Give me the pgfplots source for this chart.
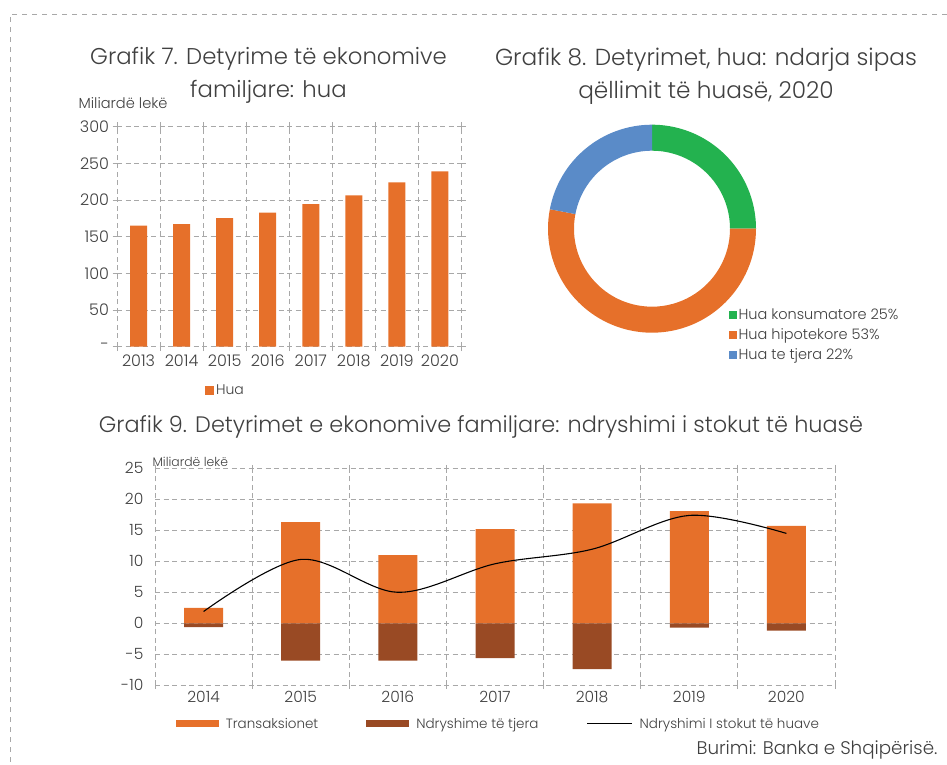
\documentclass[border=0pt]{standalone}
\usepackage{pgfplots}
\pgfplotsset{compat=1.18}
\usepackage{fontspec}
\IfFontExistsTF{Poppins Light}{\setmainfont{Poppins Light}}{\setmainfont{Poppins}}
\definecolor{cOr}{HTML}{E6702A}
\definecolor{cBr}{HTML}{994A24}
\definecolor{cGr}{HTML}{23B24F}
\definecolor{cBl}{HTML}{5A8BC8}
\definecolor{cGrid}{HTML}{A8A8A8}
\definecolor{cTxt}{HTML}{404040}
\pgfplotsset{base/.style={scale only axis, enlargelimits=false,
  axis line style={draw=none},
  grid style={cGrid, dash pattern=on 5pt off 3.5pt, line width=0.8pt},
  ymajorgrids, xminorgrids, xmajorgrids=false,
  tick align=center, tick style={cGrid, line width=0.8pt},
  every major x tick/.append style={draw=none},
  ticklabel style={text=cTxt},
  /pgf/number format/assume math mode=true,
  /pgf/number format/1000 sep={}}}
\begin{document}
\begin{tikzpicture}
\useasboundingbox (0pt,0pt) rectangle (947pt,764pt);
% page frame
\draw[cGrid, line width=0.9pt, dash pattern=on 5pt off 5pt] (947pt,750pt) -- (10pt,750pt) -- (10pt,0pt);
% titles
\node[text=cTxt, align=center, font=\fontsize{22.8}{33}\selectfont] at (268.5pt,689pt) {Grafik 7. Detyrime të ekonomive\\familjare: hua};
\node[text=cTxt, align=center, font=\fontsize{23.2}{33}\selectfont] at (706pt,687.5pt) {Grafik 8. Detyrimet, hua: ndarja sipas\\qëllimit të huasë, 2020};
\node[text=cTxt, font=\fontsize{22.4}{25}\selectfont] at (481pt,337pt) {Grafik 9. Detyrimet e ekonomive familjare: ndryshimi i stokut të huasë};
\node[text=cTxt, anchor=west, font=\fontsize{14.6}{16}\selectfont] at (75pt,661pt) {Miliardë lekë};
\node[text=cTxt, anchor=west, font=\fontsize{12.4}{14}\selectfont] at (149pt,302pt) {Miliardë lekë};
\node[text=cTxt, anchor=east, font=\fontsize{18.3}{20}\selectfont] at (941pt,14pt) {Burimi: Banka e Shqipërisë.};

% Grafik 7
\begin{axis}[base, at={(117pt,417.3pt)}, anchor=south west, width=344.5pt, height=220pt,
  xmin=2012.5, xmax=2020.5, ymin=0, ymax=300,
  xtick={2013,...,2020}, minor xtick={2012.5,2013.5,...,2020.5},
  ytick={0,50,...,300}, yticklabels={-,50,100,150,200,250,300},
  major tick length=9pt, minor tick length=9pt,
  ticklabel style={font=\fontsize{16}{18}\selectfont},
  legend style={at={(axis description cs:0.315,-0.197)}, anchor=center, draw=none,
    font=\fontsize{14}{16}\selectfont, text=cTxt, inner sep=0pt},
  legend image code/.code={\fill[#1] (0pt,-4.5pt) rectangle (9pt,4.5pt);}]
\addplot[ybar, bar width=17pt, fill=cOr, draw=none] coordinates
 {(2013,165) (2014,167) (2015,175.5) (2016,183) (2017,194.5) (2018,206.5) (2019,224) (2020,239)};
\addlegendentry{Hua}
\end{axis}

% Grafik 8
\pgfmathsetmacro{\sA}{25}
\pgfmathsetmacro{\sB}{53}
\pgfmathsetmacro{\sC}{22}
\pgfmathsetmacro{\aA}{90}
\pgfmathsetmacro{\aB}{90-3.6*\sA}
\pgfmathsetmacro{\aC}{\aB-3.6*\sB}
\pgfmathsetmacro{\aD}{\aC-3.6*\sC}
\begin{axis}[at={(548pt,431.3pt)}, anchor=south west, scale only axis, width=208pt, height=208pt,
  xmin=-1, xmax=1, ymin=-1, ymax=1, hide axis,
  legend style={at={(axis description cs:0.87,0.126)}, anchor=north west, draw=none,
    font=\fontsize{14.5}{16}\selectfont, text=cTxt, inner sep=0pt, row sep=3.5pt},
  legend cell align=left,
  legend image code/.code={\fill[#1] (0pt,-3.5pt) rectangle (7pt,3.5pt);}]
\addlegendimage{cGr}
\addlegendentry{Hua konsumatore 25\%}
\addlegendimage{cOr}
\addlegendentry{Hua hipotekore 53\%}
\addlegendimage{cBl}
\addlegendentry{Hua te tjera 22\%}
\fill[cGr] (axis cs:{cos(\aA)},{sin(\aA)}) arc[start angle=\aA, end angle=\aB, radius=104pt]
  -- (axis cs:{0.75*cos(\aB)},{0.75*sin(\aB)}) arc[start angle=\aB, end angle=\aA, radius=78pt] -- cycle;
\fill[cOr] (axis cs:{cos(\aB)},{sin(\aB)}) arc[start angle=\aB, end angle=\aC, radius=104pt]
  -- (axis cs:{0.75*cos(\aC)},{0.75*sin(\aC)}) arc[start angle=\aC, end angle=\aB, radius=78pt] -- cycle;
\fill[cBl] (axis cs:{cos(\aC)},{sin(\aC)}) arc[start angle=\aC, end angle=\aD, radius=104pt]
  -- (axis cs:{0.75*cos(\aD)},{0.75*sin(\aD)}) arc[start angle=\aD, end angle=\aC, radius=78pt] -- cycle;
\end{axis}

% Grafik 9
\begin{axis}[base, at={(155pt,78.7pt)}, anchor=south west, width=680pt, height=217pt,
  xmin=2013.5, xmax=2020.5, ymin=-10, ymax=25,
  xtick={2014,...,2020}, minor xtick={2013.5,2014.5,...,2020.5},
  ytick={-10,-5,...,25},
  every major y tick/.append style={draw=none},
  minor tick length=7pt,
  ticklabel style={font=\fontsize{15.5}{18}\selectfont},
  yticklabel style={xshift=-6pt},
  legend columns=3,
  legend style={at={(axis description cs:0.505,-0.178)}, anchor=center, draw=none,
    font=\fontsize{13.5}{16}\selectfont, text=cTxt, inner sep=0pt,
    /tikz/every even column/.append style={column sep=46pt},
    /tikz/every odd column/.append style={column sep=5pt}}]
\addplot[ybar, bar width=39pt, bar shift=0pt, fill=cOr, draw=none,
  legend image code/.code={\fill[cOr] (0pt,-3.5pt) rectangle (43pt,3.5pt);}] coordinates
 {(2014,2.5) (2015,16.3) (2016,11.0) (2017,15.2) (2018,19.35) (2019,18.1) (2020,15.7)};
\addlegendentry{Transaksionet}
\addplot[ybar, bar width=39pt, bar shift=0pt, fill=cBr, draw=none,
  legend image code/.code={\fill[cBr] (0pt,-3.5pt) rectangle (43pt,3.5pt);}] coordinates
 {(2014,-0.6) (2015,-6.0) (2016,-6.0) (2017,-5.6) (2018,-7.4) (2019,-0.7) (2020,-1.2)};
\addlegendentry{Ndryshime të tjera}
\addplot[black, line width=1.1pt, smooth, tension=0.55,
  legend image code/.code={\draw[black, line width=1.1pt] (0pt,0pt) -- (45pt,0pt);}] coordinates
 {(2014,1.9) (2015,10.3) (2016,5.0) (2017,9.6) (2018,11.95) (2019,17.4) (2020,14.5)};
\addlegendentry{Ndryshimi I stokut të huave}
\end{axis}
\end{tikzpicture}
\end{document}
